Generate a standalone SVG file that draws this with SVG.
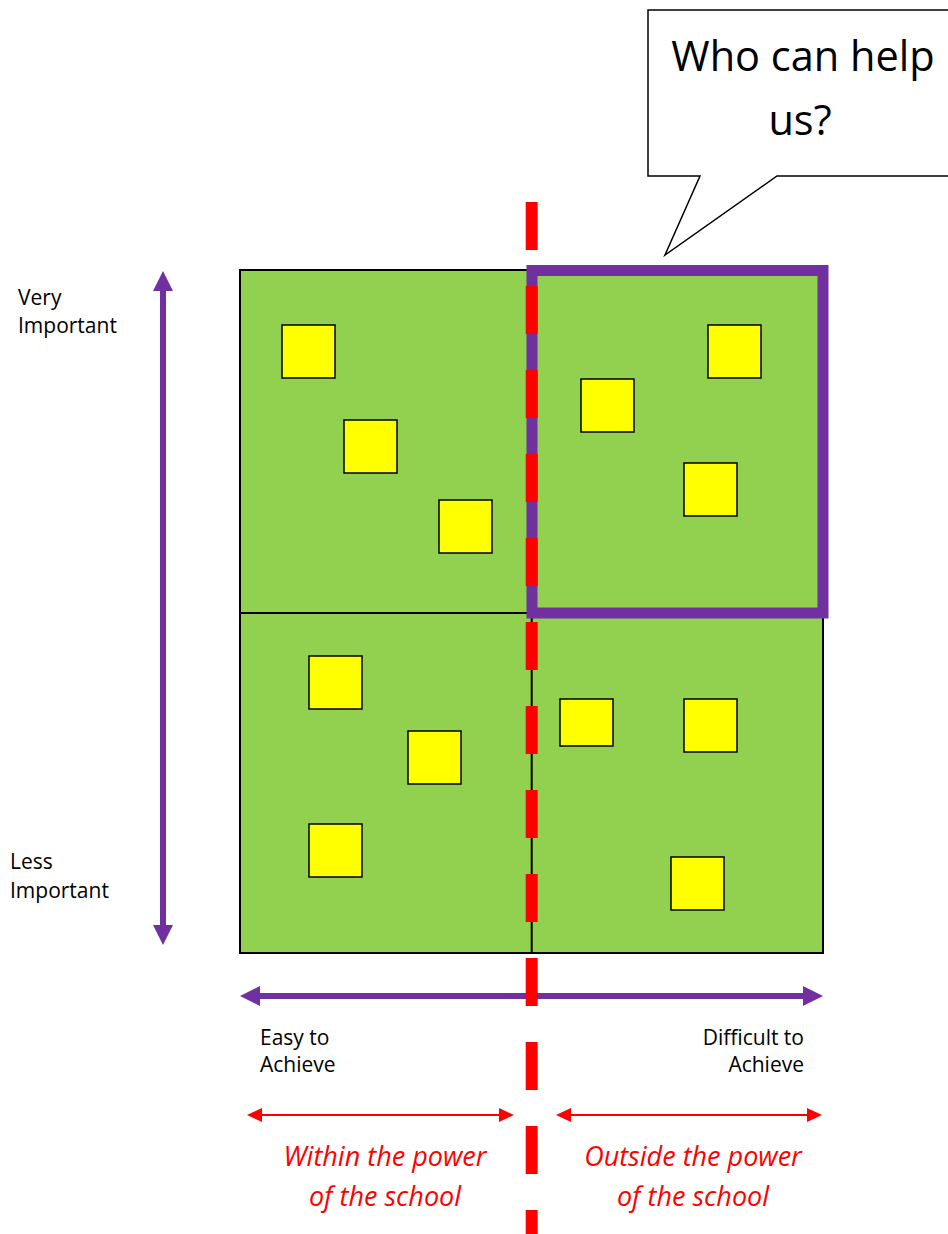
<svg xmlns="http://www.w3.org/2000/svg" width="948" height="1234" viewBox="0 0 948 1234">
<style>
.lbl{font-family:"Open Sans","Liberation Sans",sans-serif;font-size:21px;fill:#000}
.big{font-family:"Open Sans","Liberation Sans",sans-serif;font-size:41.5px;fill:#000}
.red{font-family:"Open Sans","Liberation Sans",sans-serif;font-size:27px;font-style:italic;fill:#FF0000}
.quad{fill:#92D050;stroke:#000;stroke-width:2}
.sq{fill:#FFFF00;stroke:#000;stroke-width:1.5}
.pa{stroke:#7030A0;stroke-width:6;fill:none}
.ra{stroke:#FF0000;stroke-width:2;fill:none}
</style>
<defs>
<marker id="pHead" markerUnits="userSpaceOnUse" markerWidth="20" markerHeight="20" refX="0" refY="10" orient="auto-start-reverse" viewBox="0 0 20 20">
<path d="M0,0 L20,10 L0,20 z" fill="#7030A0"/>
</marker>
<marker id="rHead" markerUnits="userSpaceOnUse" markerWidth="15" markerHeight="14" refX="0" refY="7" orient="auto-start-reverse" viewBox="0 0 15 14">
<path d="M0,0 L15,7 L0,14 z" fill="#FF0000"/>
</marker>
</defs>
<rect width="948" height="1234" fill="#fff"/>

<g id="grid">
<rect class="quad" x="240" y="270" width="583" height="683"/>
<line x1="240" y1="613" x2="532" y2="613" stroke="#000" stroke-width="2"/>
<line x1="531.7" y1="613" x2="531.7" y2="953" stroke="#000" stroke-width="2"/>
</g>

<g id="squares">
<rect class="sq" x="282" y="325" width="53" height="53"/>
<rect class="sq" x="344" y="420" width="53" height="53"/>
<rect class="sq" x="439" y="500" width="53" height="53"/>
<rect class="sq" x="708" y="325" width="53" height="53"/>
<rect class="sq" x="581" y="379" width="53" height="53"/>
<rect class="sq" x="684" y="463" width="53" height="53"/>
<rect class="sq" x="309" y="656" width="53" height="53"/>
<rect class="sq" x="408" y="731" width="53" height="53"/>
<rect class="sq" x="309" y="824" width="53" height="53"/>
<rect class="sq" x="560" y="699" width="53" height="47"/>
<rect class="sq" x="684" y="699" width="53" height="53"/>
<rect class="sq" x="671" y="857" width="53" height="53"/>
</g>

<g id="highlight">
<rect x="532" y="270.5" width="291" height="342.5" fill="none" stroke="#7030A0" stroke-width="11"/>
</g>

<g id="callout">
<path d="M648,10 L960,10 L960,176 L777,176 L665,255 L700,176 L648,176 Z" fill="#fff" stroke="#000" stroke-width="1.5"/>
<text class="big" x="803" y="71" text-anchor="middle">Who can help</text>
<text class="big" x="800" y="135" text-anchor="middle">us?</text>
</g>

<g id="connectors">
<line class="pa" x1="163" y1="291" x2="163" y2="925" marker-start="url(#pHead)" marker-end="url(#pHead)"/>
<line class="pa" x1="260" y1="996" x2="803" y2="996" marker-start="url(#pHead)" marker-end="url(#pHead)"/>
<line class="ra" x1="262" y1="1115" x2="499" y2="1115" marker-start="url(#rHead)" marker-end="url(#rHead)"/>
<line class="ra" x1="571" y1="1115" x2="807" y2="1115" marker-start="url(#rHead)" marker-end="url(#rHead)"/>
<line x1="531.7" y1="202" x2="531.7" y2="1234" stroke="#FF0000" stroke-width="12" stroke-dasharray="48 36"/>
</g>

<g id="labels">
<text class="lbl" x="18" y="305">Very</text>
<text class="lbl" x="18" y="333">Important</text>
<text class="lbl" x="10" y="869">Less</text>
<text class="lbl" x="10" y="898">Important</text>
<text class="lbl" x="260" y="1045">Easy to</text>
<text class="lbl" x="260" y="1072">Achieve</text>
<text class="lbl" x="804" y="1045" text-anchor="end">Difficult to</text>
<text class="lbl" x="804" y="1072" text-anchor="end">Achieve</text>
<text class="red" x="385" y="1166" text-anchor="middle">Within the power</text>
<text class="red" x="385" y="1206" text-anchor="middle">of the school</text>
<text class="red" x="693" y="1166" text-anchor="middle">Outside the power</text>
<text class="red" x="693" y="1206" text-anchor="middle">of the school</text>
</g>
</svg>
